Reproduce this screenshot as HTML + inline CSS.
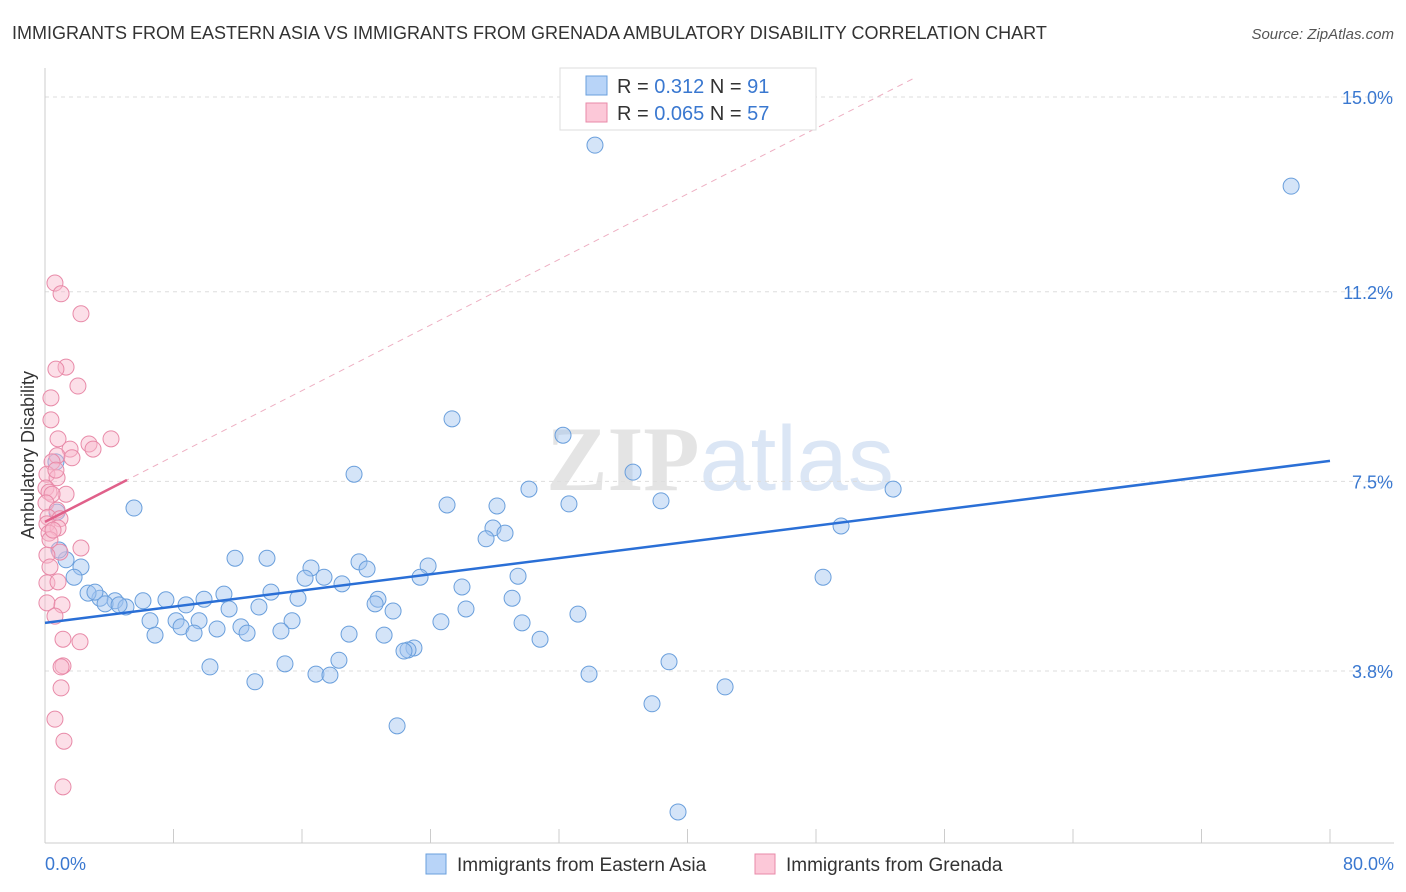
<!DOCTYPE html>
<html><head><meta charset="utf-8"><style>
body{margin:0;background:#fff;font-family:"Liberation Sans",sans-serif}
svg{display:block}
</style></head><body>
<svg id="chart" width="1406" height="892" xmlns="http://www.w3.org/2000/svg">
<text x="12" y="39" font-size="18" fill="#333">IMMIGRANTS FROM EASTERN ASIA VS IMMIGRANTS FROM GRENADA AMBULATORY DISABILITY CORRELATION CHART</text>
<text x="1394" y="39" font-size="15" fill="#555" font-style="italic" text-anchor="end">Source: ZipAtlas.com</text>
<text x="720" y="490" font-size="92" fill="#e4e4e4" text-anchor="middle" font-family="Liberation Serif" font-weight="bold">ZIP<tspan fill="#dbe6f5" font-family="Liberation Sans" font-weight="normal">atlas</tspan></text>
<g id="grid"></g><g id="axes"></g><g id="marks"></g>
<text transform="translate(34,455) rotate(-90)" font-size="18" fill="#333" text-anchor="middle">Ambulatory Disability</text>
<g>
<rect x="560" y="68" width="256" height="62" fill="#fff" stroke="#ddd"/>
<rect x="586" y="76" width="21" height="19" fill="#b8d4f8" stroke="#6a9fdc"/>
<text x="617" y="93" font-size="20" fill="#333">R =  <tspan fill="#3a78d0">0.312</tspan>   N =  <tspan fill="#3a78d0">91</tspan></text>
<rect x="586" y="103" width="21" height="19" fill="#fcc8d8" stroke="#e88aa8"/>
<text x="617" y="120" font-size="20" fill="#333">R = <tspan fill="#3a78d0">0.065</tspan>   N = <tspan fill="#3a78d0">57</tspan></text>
</g>
<g>
<rect x="426" y="854" width="20" height="20" fill="#b8d4f8" stroke="#6a9fdc"/>
<text x="457" y="871" font-size="19" fill="#333">Immigrants from Eastern Asia</text>
<rect x="755" y="854" width="20" height="20" fill="#fcc8d8" stroke="#e88aa8"/>
<text x="786" y="871" font-size="19" fill="#333">Immigrants from Grenada</text>
</g>
</svg>
<script>
const yTicks=[3.8,7.5,11.2,15.0];
const yTickLabels=["3.8%","7.5%","11.2%","15.0%"];
const xEndLabels=["0.0%","80.0%"];
const blueX=[34.24,77.58,25.34,32.25,36.61,19.24,30.13,38.35,32.62,25.03,28.14,52.8,5.54,49.56,27.89,28.64,27.46,11.83,13.82,19.55,23.85,16.56,20.05,17.37,16.19,23.35,29.45,48.44,18.49,25.96,14.07,11.14,15.75,29.08,20.73,20.55,7.53,9.9,8.78,6.1,13.32,11.46,21.67,26.21,33.18,4.36,5.04,3.42,2.24,1.81,1.31,0.87,0.75,0.68,2.68,3.11,3.74,4.61,6.54,8.16,9.59,15.38,24.65,29.7,8.47,12.2,10.71,6.85,9.28,12.58,14.69,18.93,21.11,30.82,22.97,22.6,22.35,18.3,38.85,14.94,10.27,16.87,17.74,33.87,13.07,42.34,37.79,21.92,39.41];
const blueY=[14.06,13.26,8.72,8.4,7.68,7.64,7.35,7.12,7.06,7.04,7.02,7.35,6.98,6.63,6.59,6.49,6.38,6.0,6.0,5.93,5.85,5.81,5.79,5.63,5.61,5.63,5.65,5.63,5.5,5.44,5.34,5.3,5.22,5.22,5.2,5.11,5.19,5.2,5.09,5.17,5.05,5.01,4.97,5.01,4.91,5.17,5.05,5.22,5.83,5.63,5.97,6.16,6.9,7.88,5.32,5.34,5.11,5.09,4.78,4.78,4.78,4.78,4.76,4.74,4.66,4.66,4.62,4.5,4.54,4.54,4.58,4.52,4.5,4.42,4.25,4.21,4.19,4.01,3.98,3.94,3.88,3.74,3.72,3.74,3.59,3.49,3.16,2.73,1.05];
const pinkX=[0.62,1.0,2.24,1.31,0.68,2.05,0.37,0.37,0.81,4.11,2.74,2.99,1.56,0.75,0.44,1.68,0.12,0.75,0.06,0.25,1.31,0.44,0.06,0.75,0.19,0.93,0.12,0.81,0.25,2.24,0.93,0.12,0.31,0.12,0.81,0.12,1.06,0.62,1.12,2.18,1.12,1.0,1.0,0.62,1.18,1.12,0.31,0.5,0.68];
const pinkY=[11.37,11.16,10.77,9.73,9.69,9.36,9.13,8.7,8.33,8.33,8.23,8.13,8.13,8.0,7.88,7.96,7.64,7.57,7.37,7.29,7.25,7.25,7.08,6.94,6.8,6.77,6.67,6.59,6.49,6.2,6.12,6.06,5.83,5.52,5.54,5.13,5.09,4.87,4.42,4.37,3.9,3.88,3.47,2.86,2.43,1.54,6.36,6.55,7.72];
const blueTrend=[4.74,7.9];
const pinkTrend=[6.71,0.16];
const X=v=>45+v/80*1285;
const Y=v=>671-(v-3.8)*(574/11.2);
const NS="http://www.w3.org/2000/svg";
function mk(tag,attrs,parent){const e=document.createElementNS(NS,tag);for(const k in attrs)e.setAttribute(k,attrs[k]);parent.appendChild(e);return e;}
const grid=document.getElementById('grid'),axes=document.getElementById('axes'),marks=document.getElementById('marks');
yTicks.forEach((t,i)=>{
 const l=mk('line',{x1:45,x2:1394,y1:Y(t),y2:Y(t),stroke:'#ddd','stroke-dasharray':'4,4'},grid);
 
 
 const tx=mk('text',{x:1393,y:Y(t)+7,'font-size':18,fill:'#3a78d0','text-anchor':'end'},axes);
 tx.textContent=yTickLabels[i];
 
 
});
const ax=mk('line',{x1:45,x2:45,y1:68,y2:843,stroke:'#ccc'},axes);


const bx=mk('line',{x1:45,x2:1394,y1:843,y2:843,stroke:'#ccc'},axes);


for(let i=0;i<=10;i++){
 const t=mk('line',{x1:X(i*8),x2:X(i*8),y1:829,y2:843,stroke:'#ccc'},axes);
 
 
}
[[0,'start',45],[80,'end',1394]].forEach((p,i)=>{
 const tx=mk('text',{x:p[2],y:870,'font-size':18,fill:'#3a78d0','text-anchor':p[1]},axes);
 tx.textContent=xEndLabels[i];
 
 
});
const pEnd=(15.37-pinkTrend[0])/pinkTrend[1];
const pd=mk('line',{x1:X(0),y1:Y(pinkTrend[0]),x2:X(pEnd),y2:Y(pinkTrend[0]+pinkTrend[1]*pEnd),stroke:'#eeb0c3','stroke-dasharray':'6,5'},marks);


blueX.forEach((x,i)=>{
 const c=mk('circle',{cx:X(x),cy:Y(blueY[i]),r:8,fill:'rgba(160,195,240,0.45)',stroke:'#6a9fdc','stroke-width':1},marks);
 
 
});
pinkX.forEach((x,i)=>{
 const c=mk('circle',{cx:X(x),cy:Y(pinkY[i]),r:8,fill:'rgba(248,185,205,0.45)',stroke:'#e88aa8','stroke-width':1},marks);
 
 
});
const bt=mk('line',{x1:X(0),y1:Y(blueTrend[0]),x2:X(80),y2:Y(blueTrend[1]),stroke:'#2a6fd6','stroke-width':2.5},marks);


const pt=mk('line',{x1:X(0),y1:Y(pinkTrend[0]),x2:X(5.1),y2:Y(pinkTrend[0]+pinkTrend[1]*5.1),stroke:'#e0608a','stroke-width':2.5},marks);


</script>
</body></html>
